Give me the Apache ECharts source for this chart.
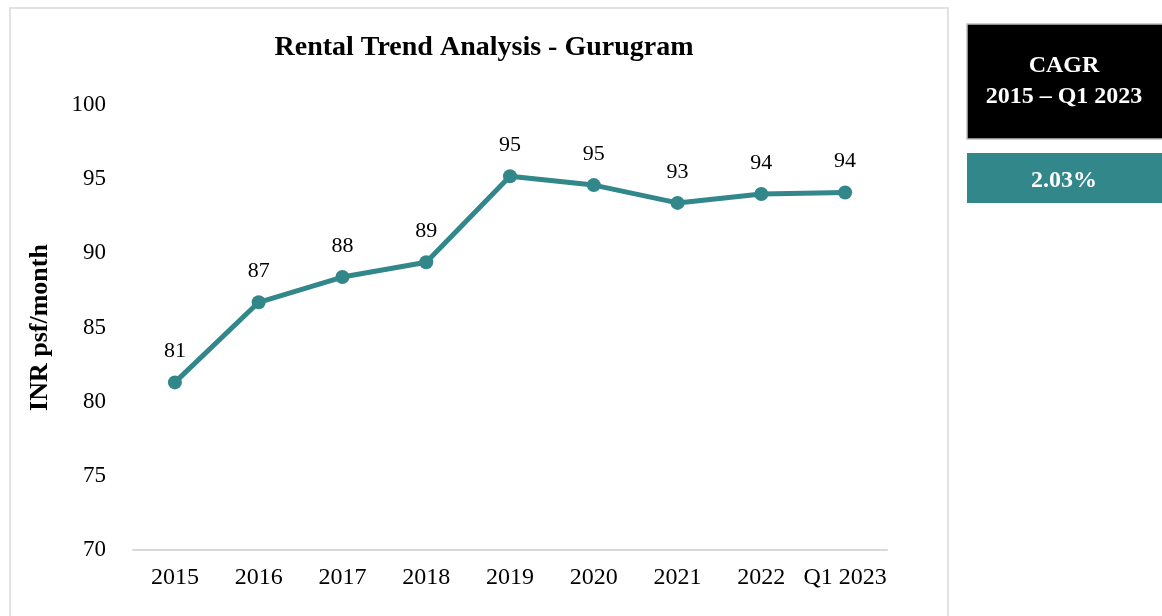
<!DOCTYPE html>
<html>
<head>
<meta charset="utf-8">
<script src="https://cdn.jsdelivr.net/npm/echarts@6/dist/echarts.min.js"></script>
<style>
  html, body { margin: 0; padding: 0; background: #fff; }
  #chart { width: 1162px; height: 616px; }
</style>
</head>
<body>
<div id="chart"></div>
<script>
// data
var categories = ["2015", "2016", "2017", "2018", "2019", "2020", "2021", "2022", "Q1 2023"];
var rentValues = [81.3, 86.7, 88.4, 89.4, 95.2, 94.6, 93.4, 94.0, 94.1];
var yTicks = { min: 70, max: 100, interval: 5 };
var cagrTitle = "CAGR";
var cagrPeriod = "2015 \u2013 Q1 2023";
var cagrValue = "2.03%";

var serif = "'Liberation Serif', 'Times New Roman', serif";
var teal = "#31878a";

var myChart = echarts.init(document.getElementById("chart"));
myChart.setOption({
  backgroundColor: "#fff",
  title: {
    text: "Rental Trend Analysis - Gurugram",
    left: 479,
    top: 29,
    textAlign: "center",
    textStyle: {
      fontFamily: serif,
      fontWeight: "bold",
      fontSize: 28,
      color: "#000"
    }
  },
  grid: {
    left: 133,
    right: 275,
    top: 105,
    bottom: 66
  },
  xAxis: {
    type: "category",
    data: categories,
    boundaryGap: true,
    axisLine: { lineStyle: { color: "#d9d9d9", width: 2 } },
    axisTick: { show: false },
    axisLabel: {
      margin: 16,
      interval: 0,
      fontFamily: serif,
      fontSize: 24,
      color: "#000"
    },
    splitLine: { show: false }
  },
  yAxis: {
    type: "value",
    min: yTicks.min,
    max: yTicks.max,
    interval: yTicks.interval,
    name: "INR psf/month",
    nameLocation: "middle",
    nameGap: 80,
    nameTextStyle: {
      fontFamily: serif,
      fontWeight: "bold",
      fontSize: 26,
      color: "#000"
    },
    axisLine: { show: false },
    axisTick: { show: false },
    splitLine: { show: false },
    axisLabel: {
      margin: 27,
      fontFamily: serif,
      fontSize: 23,
      color: "#000"
    }
  },
  series: [
    {
      type: "line",
      data: rentValues,
      symbol: "circle",
      symbolSize: 14,
      lineStyle: { color: teal, width: 5 },
      itemStyle: { color: teal },
      label: {
        show: true,
        position: "top",
        distance: 13,
        fontFamily: serif,
        fontSize: 22,
        color: "#000",
        formatter: function (p) {
          return Math.round(p.value);
        }
      }
    }
  ],
  graphic: [
    {
      type: "rect",
      shape: { x: 10, y: 8, width: 938, height: 620 },
      style: { fill: null, stroke: "#d9d9d9", lineWidth: 1.5 },
      silent: true
    },
    {
      type: "rect",
      shape: { x: 967, y: 24, width: 200, height: 115 },
      style: { fill: "#000", stroke: "#bfbfbf", lineWidth: 1.5 }
    },
    {
      type: "text",
      x: 1064,
      y: 66,
      style: {
        text: cagrTitle,
        fill: "#fff",
        font: "bold 24px " + serif,
        align: "center",
        verticalAlign: "middle"
      }
    },
    {
      type: "text",
      x: 1064,
      y: 97,
      style: {
        text: cagrPeriod,
        fill: "#fff",
        font: "bold 24px " + serif,
        align: "center",
        verticalAlign: "middle"
      }
    },
    {
      type: "rect",
      shape: { x: 967, y: 153, width: 200, height: 50 },
      style: { fill: teal }
    },
    {
      type: "text",
      x: 1064,
      y: 181,
      style: {
        text: cagrValue,
        fill: "#fff",
        font: "bold 24px " + serif,
        align: "center",
        verticalAlign: "middle"
      }
    }
  ]
});
</script>
</body>
</html>
